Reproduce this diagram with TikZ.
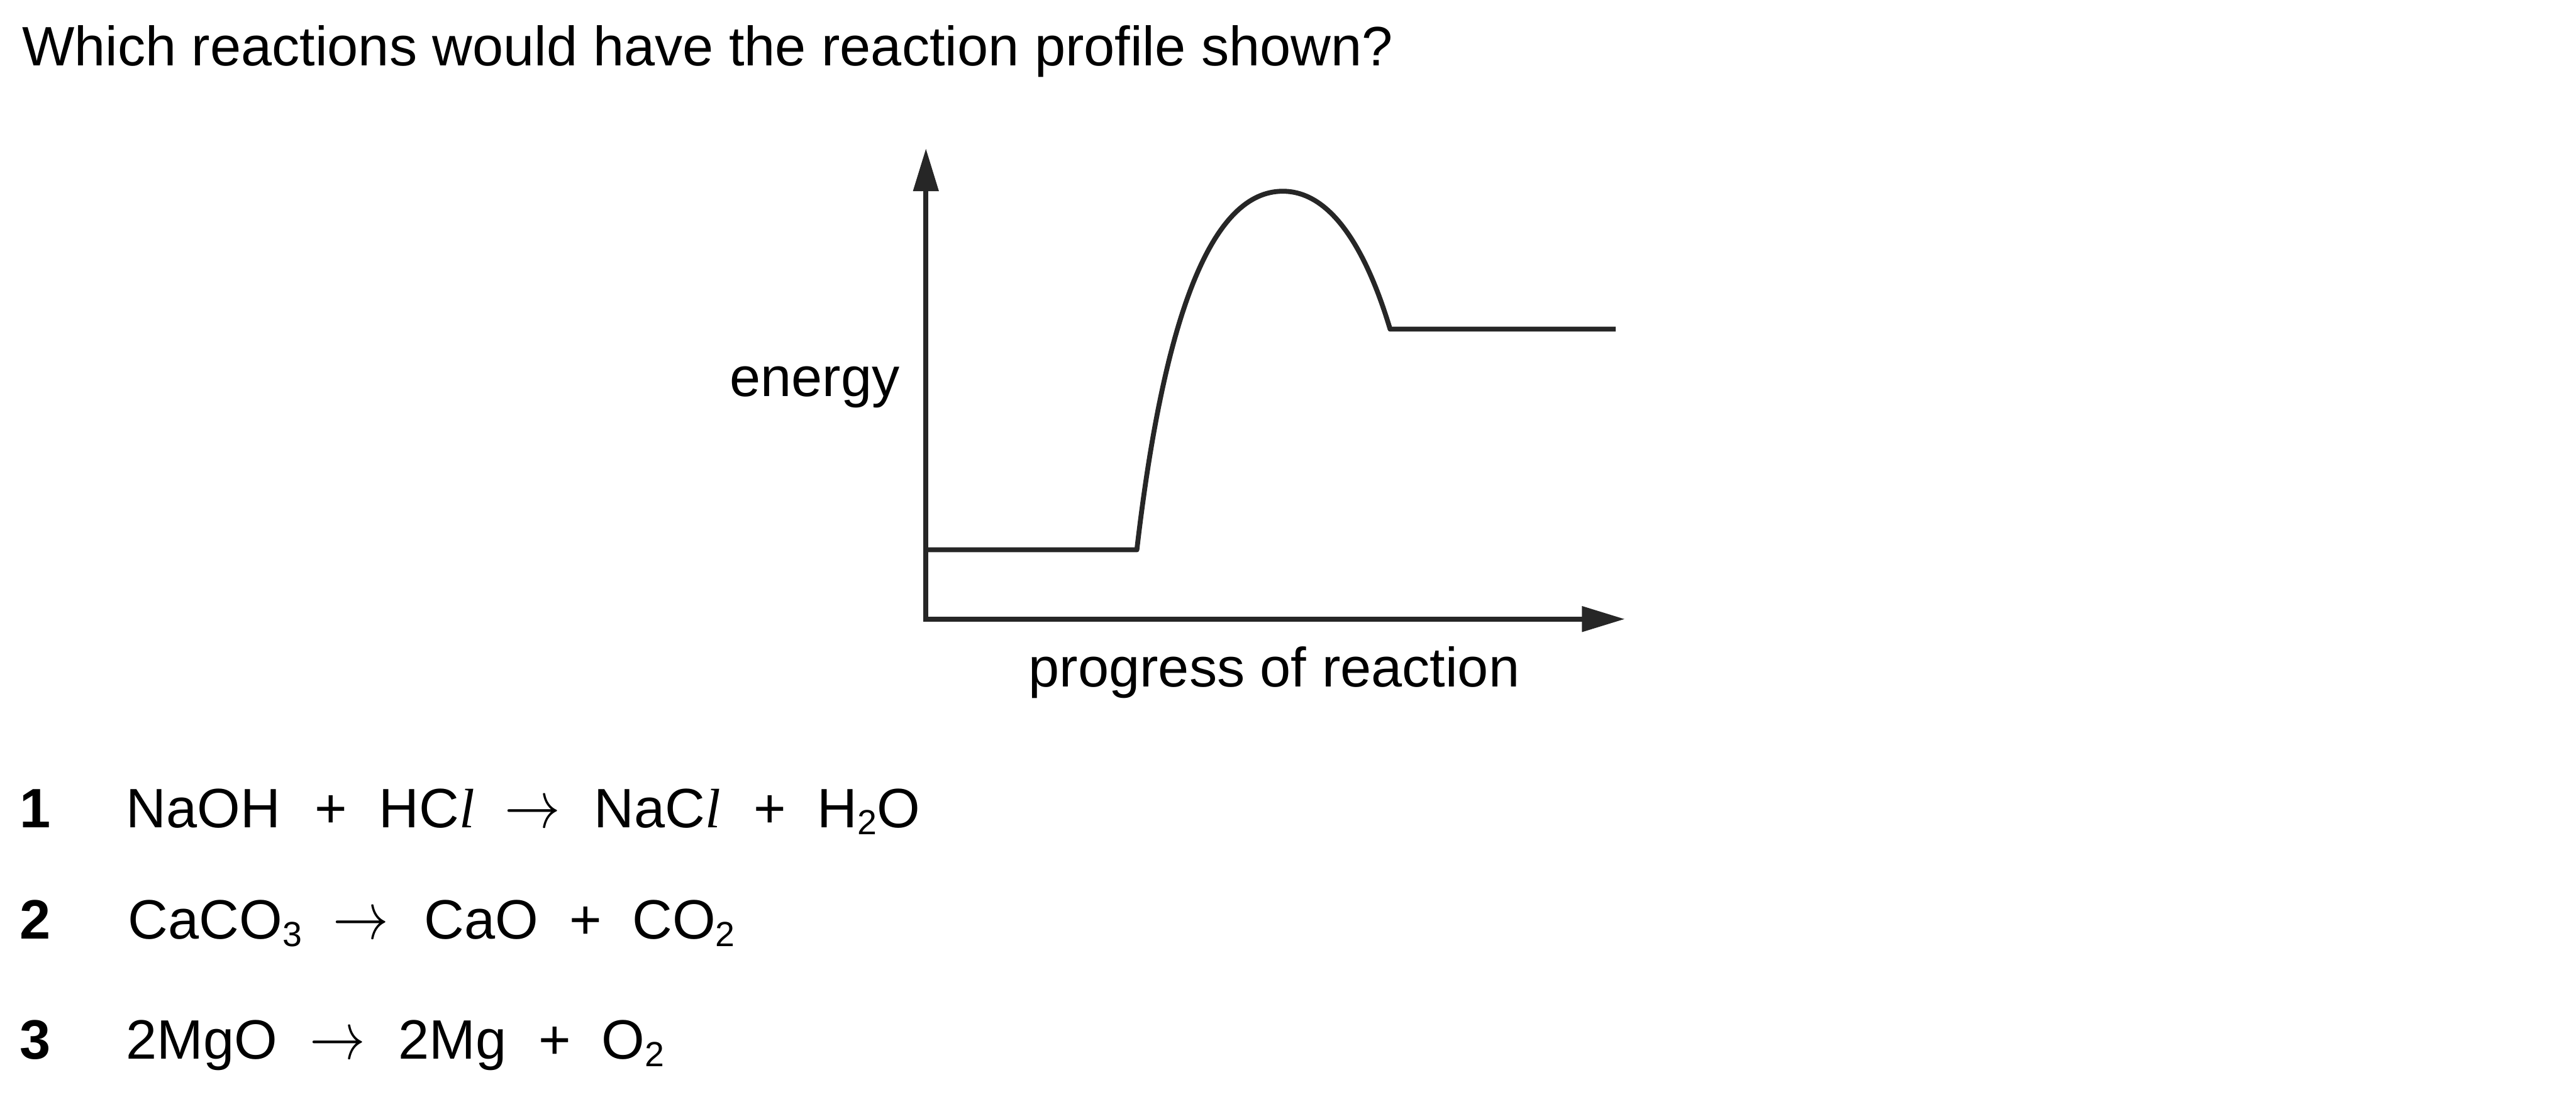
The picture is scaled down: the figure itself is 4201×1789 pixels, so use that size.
\documentclass[tikz,border=0pt]{standalone}
\usepackage{fontspec}
\setmainfont{Liberation Sans}
\newfontfamily\timesf{Liberation Serif}
\usetikzlibrary{arrows.meta}
\newcommand\chemsub[1]{\raisebox{-3.4pt}{\fontsize{16.2pt}{16.2pt}\selectfont #1}}
\newcommand\chl{{\timesf\itshape l}}
\newcommand\yields{\scalebox{1.04}[1.25]{$\rightarrow$}}
\begin{document}
\begin{tikzpicture}[x=0.01cm,y=-0.01cm,
  txt/.style={inner sep=0pt, outer sep=0pt, font=\fontsize{25.76pt}{30pt}\selectfont, anchor=base west},
  num/.style={txt, font=\fontsize{25.76pt}{30pt}\selectfont\bfseries},
  axisline/.style={line width=0.085cm, draw=black!85, -{Triangle[length=0.7cm,width=0.4cm]}},
  curveline/.style={line width=0.08cm, draw=black!85, line join=round}]
\useasboundingbox (0,0) rectangle (4201,1789);

% title
\node[txt] (title) at (36,107) {Which reactions would have the reaction profile shown?};

% axes
\coordinate (O) at (1510,1010);
\coordinate (ytip) at (1510,242);
\coordinate (xtip) at (2650,1010);
\draw[axisline] ([yshift=-0.04cm]O) -- (ytip);
\draw[axisline] ([xshift=-0.04cm]O) -- (xtip);
\node[txt, anchor=base east] (energy) at (1467,647) {energy};
\node[txt, anchor=base] (progress) at (2078,1120) {progress of reaction};

% profile
\coordinate (p0) at (1510,897);
\coordinate (p1) at (1854,897);
\coordinate (peak) at (2092,312);
\coordinate (p2) at (2267,537);
\coordinate (p3) at (2635,537);
\draw[curveline] (p0) -- (p1)
  .. controls (1900,500) and (1980,312) .. (peak)
  .. controls (2180,312) and (2235,430) .. (p2) -- (p3);

% equation 1
\node[num] (n1) at (32,1350) {1};
\node[txt] (e1a) at (206,1350) {NaOH};
\node[txt] (e1b) at (513,1350) {+};
\node[txt] (e1c) at (618,1350) {HC\chl};
\node[txt] (e1d) at (823,1350) {\yields};
\node[txt] (e1e) at (969,1350) {NaC\chl};
\node[txt] (e1f) at (1229,1350) {+};
\node[txt] (e1g) at (1333,1350) {H\chemsub{2}O};

% equation 2
\node[num] (n2) at (32,1532) {2};
\node[txt] (e2a) at (209,1532) {CaCO\chemsub{3}};
\node[txt] (e2b) at (543,1532) {\yields};
\node[txt] (e2c) at (692,1532) {CaO};
\node[txt] (e2d) at (929,1532) {+};
\node[txt] (e2e) at (1031,1532) {CO\chemsub{2}};

% equation 3
\node[num] (n3) at (32,1728) {3};
\node[txt] (e3a) at (206,1728) {2MgO};
\node[txt] (e3b) at (505,1728) {\yields};
\node[txt] (e3c) at (650,1728) {2Mg};
\node[txt] (e3d) at (878,1728) {+};
\node[txt] (e3e) at (981,1728) {O\chemsub{2}};
\end{tikzpicture}
\end{document}
